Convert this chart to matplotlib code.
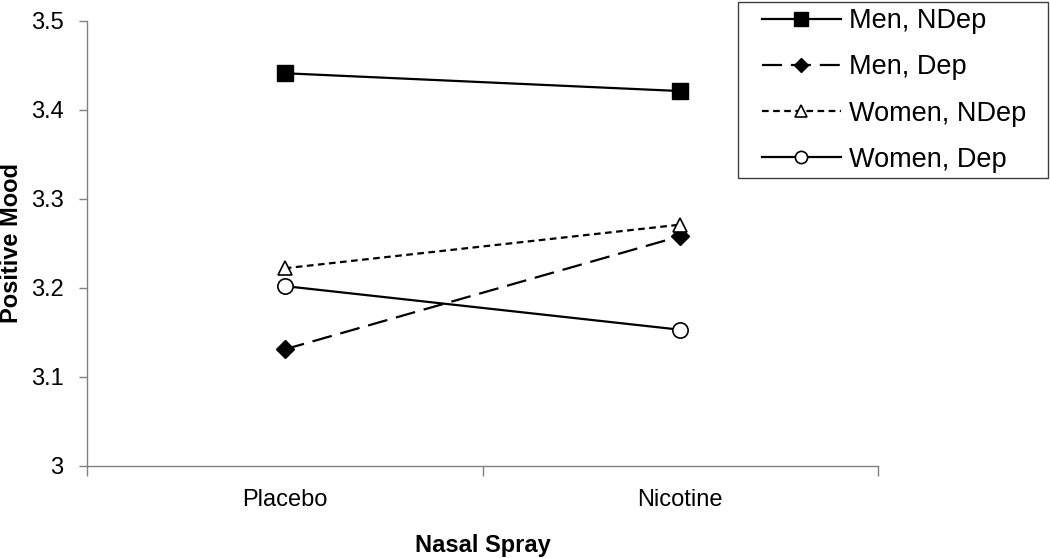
import matplotlib
matplotlib.use('Agg')
import matplotlib.pyplot as plt
from matplotlib.patches import Rectangle

plt.rcParams['font.family'] = ['Liberation Sans', 'DejaVu Sans']

conditions = ['Placebo', 'Nicotine']
men_ndep = [3.441, 3.421]
men_dep = [3.131, 3.258]
women_ndep = [3.222, 3.271]
women_dep = [3.202, 3.153]
y_ticks = [3, 3.1, 3.2, 3.3, 3.4, 3.5]
y_tick_labels = ['3', '3.1', '3.2', '3.3', '3.4', '3.5']

W, H = 1050, 558
fig = plt.figure(figsize=(W / 100, H / 100), dpi=100)
ax = fig.add_axes([87 / W, 1 - 466 / H, (878 - 87) / W, (466 - 20.7) / H])

x = [0, 1]
ax.plot(x, men_ndep, color='black', lw=1.6, marker='s', ms=12,
        label='Men, NDep')
ax.plot(x, men_dep, color='black', lw=1.6, marker='D', ms=9,
        dashes=(9, 4), label='Men, Dep')
ax.plot(x, women_ndep, color='black', lw=1.6, marker='^', ms=10,
        mfc='white', mew=1.2, dashes=(3, 2), label='Women, NDep')
ax.plot(x, women_dep, color='black', lw=1.6, marker='o', ms=11,
        mfc='white', mew=1.2, label='Women, Dep')

ax.set_xlim(-0.5, 1.5)
ax.set_ylim(3, 3.5)
ax.set_yticks(y_ticks)
ax.set_yticklabels(y_tick_labels)
# tick marks on the category boundaries, names in between
ax.set_xticks([-0.5, 0.5, 1.5])
ax.set_xticklabels([])
ax.set_xticks(x, minor=True)
ax.set_xticklabels(conditions, minor=True)
ax.tick_params(axis='x', which='minor', length=0, pad=16.5, labelsize=17)
ax.tick_params(axis='x', which='major', length=7, color='#808080', width=1)
ax.tick_params(axis='y', length=6, color='#808080', width=1, labelsize=17, pad=11)

for s in ['top', 'right']:
    ax.spines[s].set_visible(False)
for s in ['left', 'bottom']:
    ax.spines[s].set_color('#808080')
    ax.spines[s].set_linewidth(1)

# axis titles placed by baseline, they sit right at the figure edges
ax_mid_x = (87 + 878) / 2 / W
ax_mid_y = 1 - (466 + 20.7) / 2 / H
fig.text(ax_mid_x, 1 - 552 / H, 'Nasal Spray', fontsize=17, fontweight='bold',
         ha='center', va='baseline')
fig.text(18 / W, ax_mid_y, 'Positive Mood', fontsize=17, fontweight='bold',
         rotation=90, rotation_mode='anchor', ha='center', va='baseline')

# legend box drawn by hand: wider side padding than matplotlib allows
fig.patches.append(Rectangle((738 / W, 1 - 178 / H), 310 / W, 176 / H,
                             transform=fig.transFigure, fill=False,
                             edgecolor='#404040', lw=1))
leg = fig.legend(loc='upper left', bbox_to_anchor=(762 / W, 1 - 8 / H),
                 fontsize=19.5, frameon=False, handlelength=2.9,
                 handletextpad=0.33, labelspacing=0.75, borderpad=0,
                 markerscale=0.8, borderaxespad=0)

fig.savefig('out.png', dpi=100)
